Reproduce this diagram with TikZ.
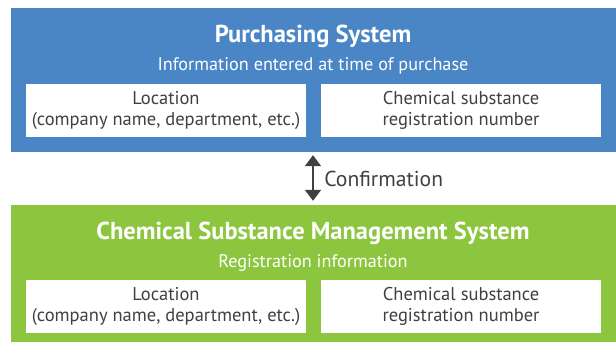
\documentclass[tikz,border=0pt]{standalone}
\usepackage{fontspec}
\setmainfont{PT Sans}
\usepackage{xcolor}
\usetikzlibrary{positioning, arrows.meta}

\definecolor{purchblue}{HTML}{4A86C5}
\definecolor{chemgreen}{HTML}{8CC63F}
\definecolor{darktext}{HTML}{404040}

\begin{document}
\begin{tikzpicture}[x=1pt, y=-1pt,
  panel/.style={rectangle, minimum width=605pt, inner sep=0pt},
  field/.style={rectangle, fill=white, minimum width=280pt, minimum height=53pt,
    inner sep=0pt, align=center, font=\fontsize{18.5}{21}\selectfont, text=darktext},
  heading/.style={text=white, font=\fontsize{24.5}{28}\bfseries\selectfont},
  subhead/.style={text=white, font=\fontsize{18.2}{21}\selectfont},
  link/.style={{Triangle[width=16pt,length=11pt]}-{Triangle[width=16pt,length=11pt]},
    darktext, line width=2pt}]
\useasboundingbox (0,0) rectangle (616,342);
% the two systems
\node[panel, fill=purchblue, minimum height=144pt] (purch) at (313.5,80) {};
\node[panel, fill=chemgreen, minimum height=137pt] (chem) at (313.5,273.5) {};
\node[heading] (purchtitle) at (313,36.5) {Purchasing System};
\node[subhead] (purchsub) at (313,65.5) {Information entered at time of purchase};
\node[heading] (chemtitle) at (313,233.5) {Chemical Substance Management System};
\node[subhead] (chemsub) at (313,262.5) {Registration information};
% fields
\node[field] (purchloc) at (166,110.5) {Location\\(company name, department, etc.)};
\node[field] (purchnum) at (461,110.5) {Chemical substance\\registration number};
\node[field] (chemloc) at (166,306.5) {Location\\(company name, department, etc.)};
\node[field] (chemnum) at (461,306.5) {Chemical substance\\registration number};
% confirmation
\draw[link, shorten <=3pt, shorten >=4pt] (purch.south -| purchtitle) -- (chem.north -| purchtitle)
  node[midway, right=7pt, text=darktext, font=\fontsize{21.6}{24}\selectfont] (confirm) {Confirmation};
\end{tikzpicture}
\end{document}
